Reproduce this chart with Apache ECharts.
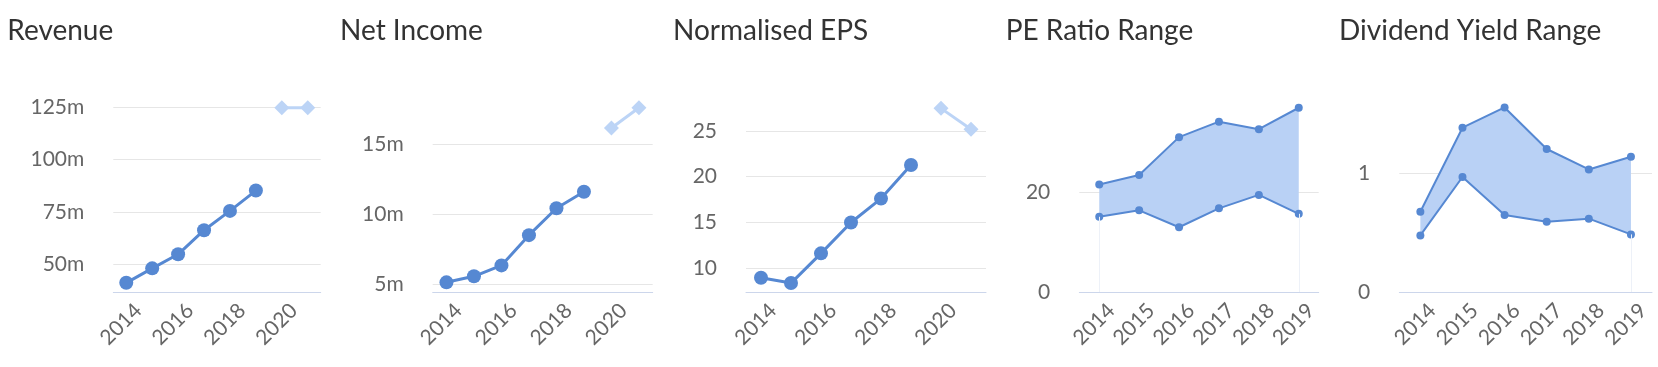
<!DOCTYPE html>
<html><head><meta charset="utf-8">
<script src="https://cdn.jsdelivr.net/npm/echarts@6/dist/echarts.min.js"></script>
<style>html,body{margin:0;padding:0;background:#fff}#c{width:1658px;height:367px}</style>
</head><body><div id="c"></div>
<script>
// ---- data ----
const yearsLong = ['2014','2015','2016','2017','2018','2019','2020','2021'];
const yearsRange = ['2014','2015','2016','2017','2018','2019'];
const forecastYears = ['2020','2021'];
const shownYearLabels = ['2014','2016','2018','2020'];
const titles = ['Revenue','Net Income','Normalised EPS','PE Ratio Range','Dividend Yield Range'];

const revenueActual = [41.2, 48.1, 54.8, 66.3, 75.5, 85.2];
const revenueForecast = [124.7, 124.7];
const netIncomeActual = [5.16, 5.59, 6.37, 8.53, 10.45, 11.63];
const netIncomeForecast = [16.18, 17.63];
const epsActual = [8.9, 8.32, 11.58, 14.97, 17.59, 21.27];
const epsForecast = [27.49, 25.19];
const peLow = [15.1, 16.4, 13.0, 16.8, 19.5, 15.7];
const peHigh = [21.6, 23.5, 31.1, 34.2, 32.7, 37.0];
const yieldLow = [0.478, 0.972, 0.651, 0.594, 0.620, 0.487];
const yieldHigh = [0.679, 1.389, 1.56, 1.209, 1.036, 1.144];

const revenueTicks = [50, 75, 100, 125];
const netIncomeTicks = [5, 10, 15];
const epsTicks = [10, 15, 20, 25];
const peTicks = [0, 20];
const yieldTicks = [0, 1];

// ---- style / layout ----
const BLUE = '#5688d2', LIGHT = '#bcd4f6', FILL = '#b9d1f5';
const GRIDC = '#e6e6e6', AXISC = '#ccd6eb', LABELC = '#666666', TITLEC = '#333333';
const FONT = 'Lato';
const layout = [
  {left: 113.3, width: 207.4, min: 36.82, max: 125.05, title: 7.3},
  {left: 432.7, width: 220.0, min: 4.47, max: 17.68, title: 340},
  {left: 746.0, width: 240.0, min: 7.34, max: 27.64, title: 673},
  {left: 1079.3, width: 239.4, min: 0, max: 37.15, title: 1005.7},
  {left: 1399.3, width: 252.7, min: 0, max: 1.564, title: 1339}
];
const GRID_TOP = 107, GRID_H = 185;

const lineSets = [
  {actual: revenueActual, forecast: revenueForecast, ticks: revenueTicks, fmt: v => v + 'm'},
  {actual: netIncomeActual, forecast: netIncomeForecast, ticks: netIncomeTicks, fmt: v => v + 'm'},
  {actual: epsActual, forecast: epsForecast, ticks: epsTicks, fmt: v => String(v)}
];
const rangeSets = [
  {low: peLow, high: peHigh, ticks: peTicks, fmt: v => String(v), edge: [0, 5]},
  {low: yieldLow, high: yieldHigh, ticks: yieldTicks, fmt: v => String(v), edge: [5]}
];

const grid = [], xAxis = [], yAxis = [], series = [], title = [];
layout.forEach((p, i) => {
  grid.push({left: p.left, top: GRID_TOP, width: p.width, height: GRID_H, outerBoundsMode: 'none'});
  title.push({text: titles[i], left: p.title, top: 17, padding: 0,
    textStyle: {fontFamily: FONT, fontSize: 28, fontWeight: 'normal', color: TITLEC}});
  const ticks = i < 3 ? lineSets[i].ticks : rangeSets[i - 3].ticks;
  const fmt = i < 3 ? lineSets[i].fmt : rangeSets[i - 3].fmt;
  xAxis.push({
    gridIndex: i, type: 'category', boundaryGap: true,
    data: i < 3 ? yearsLong : yearsRange,
    axisLine: {show: true, lineStyle: {color: AXISC, width: 1}},
    axisTick: {show: false},
    splitLine: {show: false},
    axisLabel: {interval: 0, rotate: 45, margin: 3, align: 'right', verticalAlign: 'top',
      lineHeight: 34, fontSize: 21, color: LABELC, fontFamily: FONT, hideOverlap: false,
      formatter: i < 3 ? (v => shownYearLabels.includes(v) ? v : '') : (v => v)}
  });
  yAxis.push({
    gridIndex: i, type: 'value', min: p.min, max: p.max,
    axisLine: {show: false},
    axisTick: {show: false, customValues: ticks},
    axisLabel: {customValues: ticks, formatter: fmt, margin: 29, fontSize: 21, color: LABELC, fontFamily: FONT},
    splitLine: {show: true, lineStyle: {color: GRIDC, width: 1}}
  });
});

lineSets.forEach((s, i) => {
  series.push({
    type: 'line', xAxisIndex: i, yAxisIndex: i, z: 3,
    data: s.actual.map((v, k) => [yearsLong[k], v]),
    symbol: 'circle', symbolSize: 14, showAllSymbol: true,
    itemStyle: {color: BLUE}, lineStyle: {color: BLUE, width: 3}
  });
  series.push({
    type: 'line', xAxisIndex: i, yAxisIndex: i, z: 2,
    data: s.forecast.map((v, k) => [forecastYears[k], v]),
    symbol: 'diamond', symbolSize: 15, showAllSymbol: true,
    itemStyle: {color: LIGHT}, lineStyle: {color: LIGHT, width: 3}
  });
});

rangeSets.forEach((s, j) => {
  const i = j + 3;
  const stackId = 'range' + j;
  series.push({
    type: 'line', xAxisIndex: i, yAxisIndex: i, stack: stackId, z: 4,
    data: s.low, symbol: 'circle', symbolSize: 8, showAllSymbol: true,
    itemStyle: {color: BLUE}, lineStyle: {color: BLUE, width: 2},
    markLine: {silent: true, symbol: 'none', label: {show: false}, animation: false,
      lineStyle: {color: '#edf1f8', width: 1, type: 'solid'},
      data: s.edge.map(k => [{coord: [yearsRange[k], 0]}, {coord: [yearsRange[k], s.low[k]]}])}
  });
  series.push({
    type: 'line', xAxisIndex: i, yAxisIndex: i, stack: stackId, z: 3,
    data: s.high.map((v, k) => +(v - s.low[k]).toFixed(4)),
    symbol: 'circle', symbolSize: 8, showAllSymbol: true,
    itemStyle: {color: BLUE}, lineStyle: {color: BLUE, width: 2},
    areaStyle: {color: FILL, opacity: 1}
  });
});

const chart = echarts.init(document.getElementById('c'), null, {renderer: 'canvas'});
chart.setOption({animation: false, backgroundColor: '#ffffff', title, grid, xAxis, yAxis, series});
</script></body></html>
